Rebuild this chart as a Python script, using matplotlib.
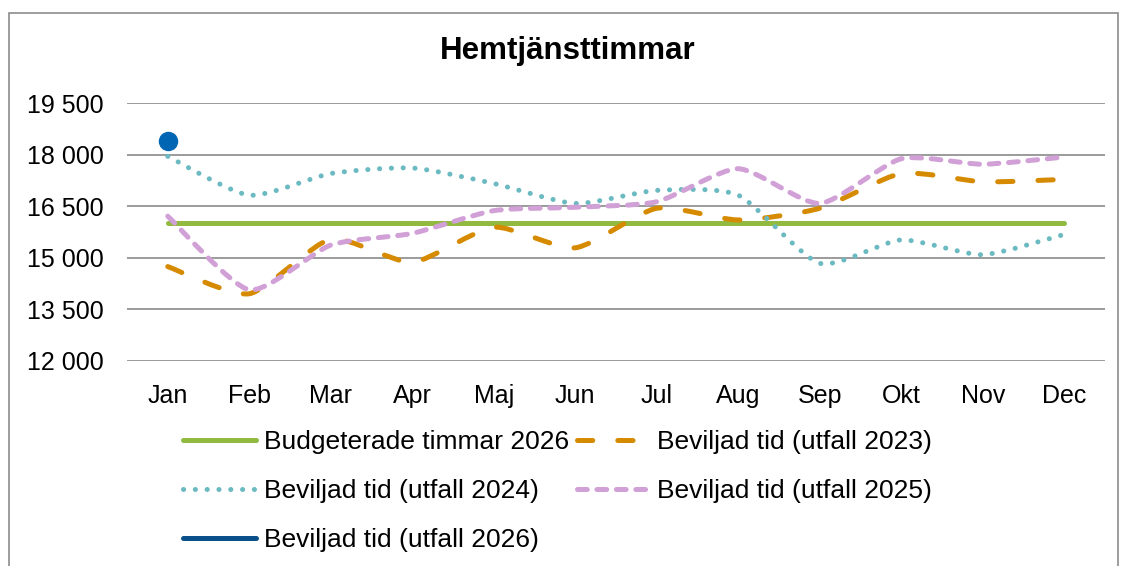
import numpy as np
import matplotlib
matplotlib.use("Agg")
from matplotlib import pyplot as plt
from matplotlib.lines import Line2D
from matplotlib.path import Path
from matplotlib.patches import PathPatch, Rectangle

plt.rcParams["font.family"] = ["Liberation Sans", "DejaVu Sans"]
plt.rcParams["lines.scale_dashes"] = False

months = ["Jan", "Feb", "Mar", "Apr", "Maj", "Jun",
          "Jul", "Aug", "Sep", "Okt", "Nov", "Dec"]
budget_2026 = [16000] * 12
utfall_2023 = [14745, 13955, 15540, 14870, 15890, 15290,
               16440, 16100, 16440, 17450, 17210, 17280]
utfall_2024 = [17950, 16820, 17450, 17610, 17160, 16580,
               16960, 16820, 14840, 15520, 15090, 15680]
utfall_2025 = [16210, 14070, 15370, 15710, 16370, 16470,
               16630, 17590, 16580, 17880, 17720, 17930]
utfall_2026 = [18400]

yticks = [12000, 13500, 15000, 16500, 18000, 19500]
ytick_labels = ["12 000", "13 500", "15 000", "16 500", "18 000", "19 500"]

C_GREEN = "#92B940"
C_ORANGE = "#D68A00"
C_TEAL = "#6BBAC1"
C_PINK = "#D1A0D6"
C_BLUE = "#0066B3"
C_NAVY = "#0A4F8A"


def smooth_path(ys, k=0.11):
    # Bezier path through the points, like Excel's "smoothed line"
    xs = np.arange(len(ys), dtype=float)
    pts = np.column_stack([xs, np.asarray(ys, dtype=float)])
    verts = [pts[0]]
    codes = [Path.MOVETO]
    n = len(pts)
    for i in range(n - 1):
        p0 = pts[max(i - 1, 0)]
        p1 = pts[i]
        p2 = pts[i + 1]
        p3 = pts[min(i + 2, n - 1)]
        c1 = p1 + (p2 - p0) * k
        c2 = p2 - (p3 - p1) * k
        verts += [c1, c2, p2]
        codes += [Path.CURVE4] * 3
    return Path(verts, codes)


fig = plt.figure(figsize=(11.22, 5.66), dpi=100)
ax = fig.add_axes([127 / 1122, 1 - 361 / 566, 978 / 1122, 258 / 566])

ax.set_xlim(-0.5, 11.5)
ax.set_ylim(12000, 19500)
ax.set_yticks(yticks)
ax.set_yticklabels(ytick_labels)
ax.set_xticks(range(12))
ax.set_xticklabels(months)
ax.tick_params(axis="y", length=0, pad=17, labelsize=18)
ax.tick_params(axis="x", length=0, pad=16.5, labelsize=18)
for s in ax.spines.values():
    s.set_visible(False)
ax.grid(axis="y", color="#8A8A8A", linewidth=1.2)
ax.set_axisbelow(True)

ax.plot(range(12), budget_2026, color=C_GREEN, lw=3.6,
        solid_capstyle="round", zorder=3)

styles = [
    (utfall_2023, C_ORANGE, (0, (11, 18))),
    (utfall_2024, C_TEAL, (0, (0.1, 8.4))),
    (utfall_2025, C_PINK, (0, (7, 7))),
]
for ys, col, ls in styles:
    patch = PathPatch(smooth_path(ys), fill=False, edgecolor=col, lw=3.6,
                      linestyle=ls, capstyle="round", joinstyle="round",
                      zorder=4)
    ax.add_patch(patch)

ax.plot(range(len(utfall_2026)), utfall_2026, "o", color=C_BLUE,
        markersize=13, zorder=5)

fig.text(0.506, 1 - 51 / 566, "Hemtjänsttimmar", fontsize=22.5,
         fontweight="bold", ha="center", va="center")

# outer chart border
fig.patches.append(Rectangle((9 / 1122, -0.05), 1109 / 1122, 1.05 - 13 / 566,
                             transform=fig.transFigure, fill=False,
                             edgecolor="#8C8C8C", lw=1.2))

h_budget = Line2D([], [], color=C_GREEN, lw=3.6, solid_capstyle="round")
h_2023 = Line2D([], [], color=C_ORANGE, lw=3.6, dashes=(11, 18),
                dash_capstyle="round")
h_2024 = Line2D([], [], color=C_TEAL, lw=3.6, dashes=(0.1, 8.4),
                dash_capstyle="round")
h_2025 = Line2D([], [], color=C_PINK, lw=3.6, dashes=(7, 7),
                dash_capstyle="round")
h_2026 = Line2D([], [], color=C_NAVY, lw=3.6, solid_capstyle="round")

handles = [h_budget, h_2024, h_2026, h_2023, h_2025]
labels = ["Budgeterade timmar 2026", "Beviljad tid (utfall 2024)",
          "Beviljad tid (utfall 2026)", "Beviljad tid (utfall 2023)",
          "Beviljad tid (utfall 2025)"]
fig.legend(handles, labels, loc="upper center",
           bbox_to_anchor=(0.497, 1 - 430 / 566), ncol=2, frameon=False,
           fontsize=19, handlelength=2.75, handletextpad=0.3,
           columnspacing=0.3, labelspacing=0.95, borderpad=0,
           borderaxespad=0)

fig.savefig("out.png", dpi=100)
